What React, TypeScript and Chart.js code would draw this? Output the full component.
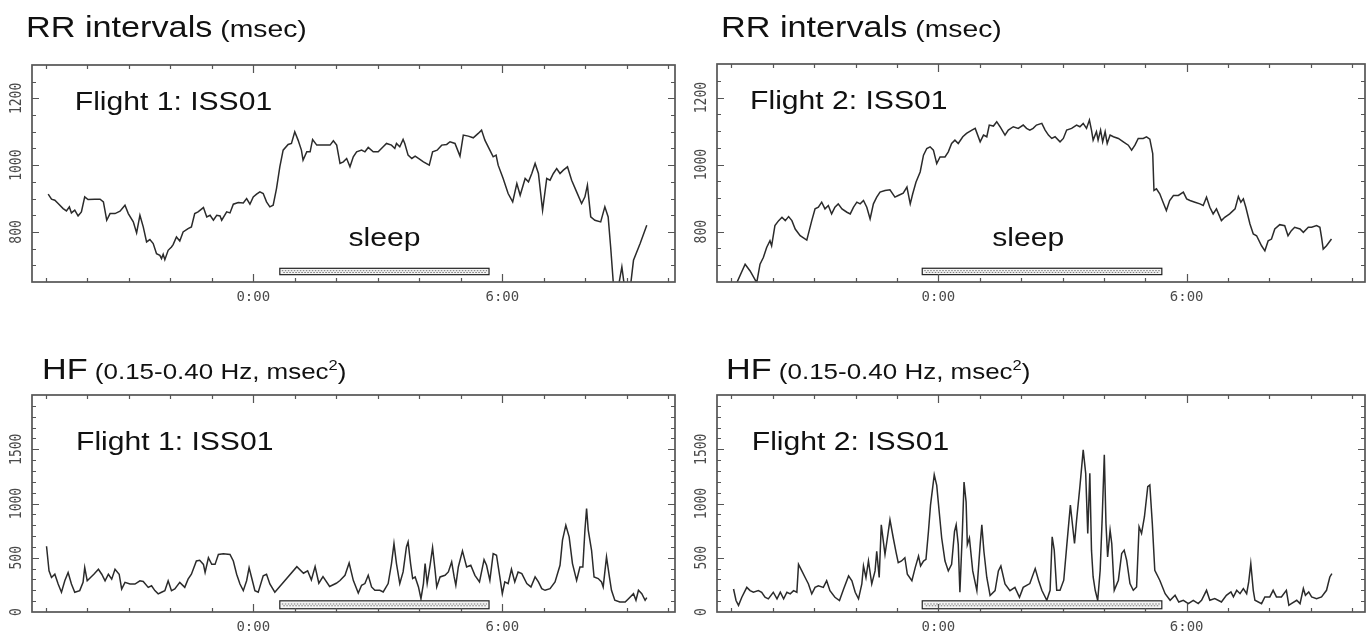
import React, { useEffect, useRef } from "react";
import { Chart, registerables } from "chart.js";

Chart.register(...registerables);

// ---------------- DATA ----------------
// RR intervals (msec), Flight 1 — x in hours relative to 0:00
const rr1Hours = [-4.94,-4.86,-4.78,-4.70,-4.58,-4.50,-4.43,-4.38,-4.30,-4.22,
-4.14,-4.06,-3.98,-3.82,-3.69,-3.61,-3.53,-3.45,-3.33,-3.21,
-3.09,-3.01,-2.89,-2.81,-2.73,-2.65,-2.57,-2.49,-2.41,-2.33,
-2.25,-2.21,-2.17,-2.13,-2.05,-1.97,-1.93,-1.85,-1.77,-1.69,
-1.57,-1.49,-1.41,-1.33,-1.20,-1.12,-1.04,-0.96,-0.88,-0.80,
-0.76,-0.64,-0.56,-0.48,-0.36,-0.24,-0.16,-0.08,0.00,0.08,
0.16,0.24,0.32,0.40,0.48,0.56,0.64,0.72,0.84,0.92,
1.00,1.08,1.16,1.20,1.29,1.37,1.43,1.53,1.69,1.85,
1.93,2.01,2.09,2.17,2.25,2.33,2.41,2.49,2.61,2.69,
2.77,2.89,3.01,3.13,3.21,3.33,3.41,3.45,3.53,3.61,
3.65,3.73,3.82,3.90,3.98,4.10,4.24,4.32,4.43,4.54,
4.66,4.74,4.86,4.98,5.06,5.18,5.30,5.42,5.50,5.58,
5.70,5.78,5.85,5.90,6.02,6.14,6.25,6.35,6.43,6.55,
6.63,6.71,6.79,6.87,6.97,7.07,7.15,7.23,7.31,7.39,
7.47,7.57,7.67,7.79,7.91,7.99,8.05,8.13,8.23,8.37,
8.47,8.55,8.61,8.69,8.76,8.88,8.96,9.08,9.16,9.32,
9.48];
const rr1Values = [913,898,895,885,870,863,875,857,865,848,
860,905,897,898,898,890,835,855,855,862,
880,855,830,797,850,815,770,777,765,735,
730,720,733,717,745,755,762,785,773,800,
810,815,855,860,873,845,850,835,850,848,
835,860,857,883,888,887,900,883,905,913,
920,915,890,875,880,930,995,1045,1062,1065,
1100,1075,1045,1015,1040,1040,1077,1060,1060,1060,
1073,1060,1005,1010,1020,995,1025,1040,1045,1040,
1053,1040,1040,1055,1065,1060,1050,1065,1055,1077,
1065,1030,1020,1027,1020,1010,1000,1040,1045,1060,
1062,1070,1065,1027,1090,1087,1082,1095,1105,1075,
1045,1025,1030,1000,960,915,890,945,910,960,
950,975,1005,975,865,960,955,975,990,975,
985,995,955,920,885,905,940,845,835,830,
875,845,755,620,610,695,620,630,715,765,
820];

// RR intervals (msec), Flight 2
const rr2Hours = [-4.90,-4.67,-4.55,-4.39,-4.31,-4.23,-4.15,-4.07,-4.03,-3.95,
-3.86,-3.78,-3.70,-3.62,-3.54,-3.46,-3.34,-3.18,-3.06,-2.98,
-2.90,-2.82,-2.74,-2.66,-2.58,-2.50,-2.42,-2.33,-2.21,-2.13,
-2.05,-1.97,-1.89,-1.81,-1.73,-1.65,-1.57,-1.49,-1.41,-1.29,
-1.17,-1.05,-0.97,-0.85,-0.76,-0.68,-0.62,-0.54,-0.44,-0.36,
-0.28,-0.20,-0.12,-0.04,0.04,0.16,0.24,0.32,0.40,0.48,
0.59,0.68,0.81,0.89,1.01,1.09,1.17,1.23,1.33,1.41,
1.49,1.61,1.69,1.81,1.93,2.05,2.13,2.21,2.29,2.37,
2.50,2.58,2.66,2.74,2.82,2.94,3.02,3.10,3.22,3.34,
3.42,3.50,3.58,3.65,3.70,3.74,3.82,3.86,3.92,3.97,
4.03,4.08,4.15,4.23,4.35,4.47,4.59,4.67,4.75,4.83,
4.95,5.03,5.11,5.18,5.21,5.27,5.35,5.43,5.51,5.59,
5.68,5.80,5.92,6.00,6.08,6.20,6.32,6.40,6.48,6.56,
6.64,6.72,6.84,6.92,7.04,7.17,7.25,7.31,7.37,7.43,
7.53,7.61,7.69,7.81,7.89,7.97,8.05,8.13,8.25,8.37,
8.45,8.53,8.61,8.74,8.82,8.94,9.02,9.14,9.22,9.26,
9.30,9.38,9.50];
const rr2Values = [640,703,683,648,703,723,753,773,758,818,
833,843,833,845,833,808,788,775,833,868,
873,888,868,878,853,873,883,868,858,853,
873,888,883,893,873,838,883,903,918,923,
925,903,908,915,933,883,913,948,978,1028,
1048,1053,1043,1003,1023,1023,1038,1063,1073,1063,
1083,1093,1103,1108,1068,1088,1083,1118,1115,1128,
1113,1088,1103,1113,1108,1118,1108,1103,1108,1118,
1123,1103,1088,1078,1083,1068,1078,1103,1108,1118,
1113,1123,1108,1133,1103,1073,1098,1073,1103,1068,
1098,1063,1088,1083,1078,1068,1058,1043,1058,1078,
1078,1083,1076,1033,923,928,913,888,863,893,
908,908,918,898,893,888,883,878,903,873,
853,868,833,843,853,868,905,888,898,873,
823,793,788,758,743,773,778,808,821,818,
788,803,813,808,798,813,813,818,813,783,
748,758,778];

// HF power (msec^2), Flight 1
const hf1Hours = [-4.98,-4.92,-4.86,-4.78,-4.70,-4.62,-4.54,-4.46,-4.38,-4.30,
-4.18,-4.10,-4.06,-4.00,-3.92,-3.84,-3.73,-3.65,-3.57,-3.49,
-3.41,-3.33,-3.23,-3.17,-3.09,-2.97,-2.85,-2.73,-2.65,-2.53,
-2.45,-2.37,-2.29,-2.21,-2.13,-2.05,-1.97,-1.89,-1.77,-1.65,
-1.57,-1.49,-1.37,-1.29,-1.20,-1.16,-1.08,-1.00,-0.92,-0.84,
-0.72,-0.56,-0.48,-0.40,-0.32,-0.24,-0.16,-0.10,-0.04,0.04,
0.12,0.24,0.32,0.40,0.52,1.05,1.21,1.31,1.40,1.49,
1.58,1.68,1.84,2.00,2.09,2.21,2.31,2.41,2.53,2.61,
2.69,2.77,2.85,2.93,3.05,3.13,3.25,3.33,3.39,3.45,
3.53,3.61,3.69,3.73,3.79,3.84,3.90,3.98,4.04,4.10,
4.14,4.19,4.26,4.32,4.38,4.42,4.50,4.62,4.70,4.78,
4.84,4.88,4.94,5.04,5.14,5.24,5.34,5.45,5.56,5.62,
5.70,5.78,5.86,5.94,6.00,6.06,6.14,6.22,6.30,6.38,
6.47,6.59,6.69,6.79,6.87,6.95,7.03,7.15,7.27,7.39,
7.45,7.53,7.61,7.69,7.79,7.87,7.94,7.99,8.03,8.07,
8.15,8.21,8.31,8.39,8.43,8.51,8.58,8.63,8.71,8.83,
8.96,9.04,9.16,9.22,9.28,9.36,9.44,9.48];
const hf1Values = [606,379,318,348,258,182,288,364,258,182,
197,273,409,288,318,348,394,348,288,348,
303,394,348,212,273,258,258,288,282,227,
242,197,167,182,197,288,197,212,273,227,
303,348,470,476,439,364,500,439,439,530,
536,530,470,348,258,197,288,409,318,197,
182,333,348,258,182,418,357,380,296,418,
265,326,235,265,290,338,452,292,175,246,
262,338,231,200,200,185,262,446,631,446,
262,369,600,646,446,308,323,231,123,262,
446,262,431,594,385,231,323,338,369,462,
323,246,415,563,415,431,338,277,483,431,
292,538,523,323,169,277,262,394,277,369,
354,262,231,323,277,215,200,215,277,431,
662,800,692,446,292,415,415,754,954,754,
569,323,308,277,231,508,323,200,108,92,
92,123,169,108,200,169,108,132];

// HF power (msec^2), Flight 2
const hf2Hours = [-4.95,-4.89,-4.83,-4.75,-4.63,-4.55,-4.47,-4.35,-4.27,-4.19,
-4.11,-3.99,-3.90,-3.82,-3.74,-3.66,-3.58,-3.50,-3.42,-3.38,
-3.30,-3.22,-3.14,-3.06,-2.98,-2.90,-2.78,-2.70,-2.62,-2.50,
-2.39,-2.29,-2.17,-2.09,-2.01,-1.93,-1.85,-1.81,-1.75,-1.69,
-1.61,-1.53,-1.49,-1.43,-1.38,-1.33,-1.29,-1.21,-1.17,-1.09,
-1.02,-0.97,-0.89,-0.81,-0.75,-0.64,-0.56,-0.48,-0.43,-0.36,
-0.30,-0.24,-0.19,-0.10,-0.04,0.02,0.08,0.16,0.24,0.32,
0.39,0.43,0.48,0.52,0.58,0.62,0.67,0.70,0.75,0.83,
0.93,1.01,1.05,1.10,1.17,1.25,1.37,1.45,1.51,1.61,
1.73,1.85,1.96,2.05,2.21,2.34,2.42,2.50,2.62,2.70,
2.75,2.80,2.86,2.94,3.03,3.10,3.19,3.22,3.29,3.34,
3.42,3.50,3.56,3.61,3.66,3.70,3.74,3.79,3.85,3.91,
3.96,4.01,4.05,4.09,4.15,4.19,4.25,4.35,4.43,4.49,
4.55,4.63,4.71,4.79,4.85,4.91,4.98,5.06,5.11,5.17,
5.23,5.35,5.48,5.60,5.72,5.81,5.92,6.04,6.16,6.28,
6.36,6.48,6.56,6.68,6.84,6.96,7.07,7.13,7.21,7.29,
7.37,7.45,7.50,7.55,7.61,7.65,7.81,7.89,8.01,8.09,
8.17,8.29,8.41,8.47,8.53,8.66,8.74,8.82,8.87,8.95,
9.02,9.14,9.26,9.38,9.46,9.51];
const hf2Values = [212,106,61,136,227,197,182,197,182,136,
121,182,121,182,121,182,167,197,182,439,
379,318,258,167,227,242,227,288,197,136,
106,212,333,288,182,121,258,424,318,470,
258,379,560,318,803,651,530,742,850,682,
545,455,470,500,348,288,409,515,424,470,
485,742,985,1264,1167,924,682,470,379,439,
742,803,621,182,742,1197,1015,621,682,379,
197,621,803,560,318,152,197,379,424,258,
197,227,136,227,262,400,293,200,108,200,
693,570,200,200,293,600,985,878,631,847,
1155,1494,1278,724,1278,570,323,200,108,385,
878,1448,816,508,754,631,200,293,539,570,
477,262,200,231,785,724,878,1155,1170,816,
385,293,169,108,154,92,108,77,108,77,
108,200,108,123,92,154,185,139,200,169,
216,169,277,447,200,108,77,139,139,200,
139,139,200,62,77,108,77,216,154,185,
139,123,139,200,323,354];

// Axis ticks / labels
const rrTickValues = [800, 1000, 1200];
const rrTickLabels = ["800", "1000", "1200"];
const hfTickValues = [0, 500, 1000, 1500];
const hfTickLabels = ["0", "500", "1000", "1500"];
const timeTickHours = [0, 6];
const timeTickLabels = ["0:00", "6:00"];
const flightLabels = ["Flight 1: ISS01", "Flight 2: ISS01"];
const sleepLabel = "sleep";
// sleep windows (hours)
const sleepFlight1 = [0.64, 5.68];
const sleepFlight2 = [-0.39, 5.40];

// ---------------- STYLE / LAYOUT ----------------
const TEXT_STRETCH = 1.18;
const LINE_COLOR = "#2b2b2b";
const FRAME_COLOR = "#555555";
const TICK_FONT = '14px "DejaVu Sans Mono", monospace';
const LABEL_FONT = '25.5px "Liberation Sans", Arial, sans-serif';

type Panel = {
  key: string;
  hours: number[];
  values: number[];
  xMin: number; xMax: number;
  yMin: number; yMax: number;
  yMinorStep: number;
  yTicks: number[]; yLabels: string[];
  flight: string; flightAt: [number, number];
  sleep: number[]; sleepBand: [number, number];
  sleepText: boolean; sleepTextAt: [number, number];
  box: { left: number; top: number; right: number; bottom: number };
  canvas: { left: number; top: number; width: number; height: number };
};

const panels: Panel[] = [
  {
    key: "rr1", hours: rr1Hours, values: rr1Values,
    xMin: -5.33, xMax: 10.16, yMin: 650, yMax: 1300, yMinorStep: 50,
    yTicks: rrTickValues, yLabels: rrTickLabels,
    flight: flightLabels[0], flightAt: [-4.3, 1165],
    sleep: sleepFlight1, sleepBand: [672, 691],
    sleepText: true, sleepTextAt: [3.16, 757],
    box: { left: 32, top: 65, right: 675, bottom: 282 },
    canvas: { left: 0, top: 45, width: 684, height: 275 },
  },
  {
    key: "rr2", hours: rr2Hours, values: rr2Values,
    xMin: -5.35, xMax: 10.31, yMin: 650, yMax: 1300, yMinorStep: 50,
    yTicks: rrTickValues, yLabels: rrTickLabels,
    flight: flightLabels[1], flightAt: [-4.55, 1165],
    sleep: sleepFlight2, sleepBand: [672, 691],
    sleepText: true, sleepTextAt: [2.17, 757],
    box: { left: 717, top: 64, right: 1365, bottom: 282 },
    canvas: { left: 684, top: 45, width: 685, height: 275 },
  },
  {
    key: "hf1", hours: hf1Hours, values: hf1Values,
    xMin: -5.33, xMax: 10.16, yMin: 0, yMax: 2000, yMinorStep: 100,
    yTicks: hfTickValues, yLabels: hfTickLabels,
    flight: flightLabels[0], flightAt: [-4.27, 1493],
    sleep: sleepFlight1, sleepBand: [30, 103],
    sleepText: false, sleepTextAt: [0, 0],
    box: { left: 32, top: 395, right: 675, bottom: 612 },
    canvas: { left: 0, top: 385, width: 684, height: 253 },
  },
  {
    key: "hf2", hours: hf2Hours, values: hf2Values,
    xMin: -5.35, xMax: 10.31, yMin: 0, yMax: 2000, yMinorStep: 100,
    yTicks: hfTickValues, yLabels: hfTickLabels,
    flight: flightLabels[1], flightAt: [-4.51, 1493],
    sleep: sleepFlight2, sleepBand: [30, 103],
    sleepText: false, sleepTextAt: [0, 0],
    box: { left: 717, top: 395, right: 1365, bottom: 612 },
    canvas: { left: 684, top: 385, width: 685, height: 253 },
  },
];

function stretchedText(ctx: CanvasRenderingContext2D, text: string, x: number, y: number, align: CanvasTextAlign) {
  ctx.save();
  ctx.translate(x, y);
  ctx.scale(TEXT_STRETCH, 1);
  ctx.textAlign = align;
  ctx.textBaseline = "alphabetic";
  ctx.fillText(text, 0, 0);
  ctx.restore();
}

const framePlugin = {
  id: "panelFrame",
  afterDatasetsDraw(chart: any, _args: any, opts: any) {
    const p: Panel = opts.panel;
    const ctx: CanvasRenderingContext2D = chart.ctx;
    const a = chart.chartArea;
    const x = chart.scales.x;
    const y = chart.scales.y;
    ctx.save();

    // sleep bar
    const bx1 = x.getPixelForValue(p.sleep[0]);
    const bx2 = x.getPixelForValue(p.sleep[1]);
    const by1 = y.getPixelForValue(p.sleepBand[1]);
    const by2 = y.getPixelForValue(p.sleepBand[0]);
    ctx.fillStyle = "#f4f4f4";
    ctx.fillRect(bx1, by1, bx2 - bx1, by2 - by1);
    ctx.strokeStyle = "#777";
    ctx.lineWidth = 1;
    ctx.setLineDash([1.5, 1.5]);
    const my = (by1 + by2) / 2;
    ctx.beginPath();
    ctx.moveTo(bx1 + 2, my - 0.8);
    ctx.lineTo(bx2 - 2, my - 0.8);
    ctx.stroke();
    ctx.lineDashOffset = 1.5;
    ctx.beginPath();
    ctx.moveTo(bx1 + 2, my + 1);
    ctx.lineTo(bx2 - 2, my + 1);
    ctx.stroke();
    ctx.setLineDash([]);
    ctx.strokeStyle = "#222";
    ctx.lineWidth = 1.2;
    ctx.strokeRect(bx1, by1, bx2 - bx1, by2 - by1);

    // frame
    ctx.strokeStyle = FRAME_COLOR;
    ctx.lineWidth = 1.7;
    ctx.strokeRect(a.left, a.top, a.right - a.left, a.bottom - a.top);

    // x ticks (inward, top and bottom)
    ctx.lineWidth = 1.2;
    ctx.beginPath();
    for (let h = Math.ceil(x.min); h <= Math.floor(x.max); h++) {
      const px = Math.round(x.getPixelForValue(h)) + 0.5;
      const len = timeTickHours.includes(h) ? 8 : 4;
      ctx.moveTo(px, a.bottom);
      ctx.lineTo(px, a.bottom - len);
      ctx.moveTo(px, a.top);
      ctx.lineTo(px, a.top + len);
    }
    // y ticks (inward, left and right)
    const start = Math.ceil(y.min / p.yMinorStep) * p.yMinorStep;
    for (let v = start; v <= y.max; v += p.yMinorStep) {
      if (v === y.min || v === y.max) continue;
      const py = Math.round(y.getPixelForValue(v)) + 0.5;
      const len = p.yTicks.includes(v) ? 7 : 4;
      ctx.moveTo(a.left, py);
      ctx.lineTo(a.left + len, py);
      ctx.moveTo(a.right, py);
      ctx.lineTo(a.right - len, py);
    }
    ctx.stroke();

    // y labels (rotated)
    ctx.fillStyle = "#4a4a4a";
    ctx.font = TICK_FONT;
    p.yTicks.forEach((v, i) => {
      ctx.save();
      ctx.translate(a.left - 15, y.getPixelForValue(v));
      ctx.rotate(-Math.PI / 2);
      ctx.scale(0.93, TEXT_STRETCH);
      ctx.textAlign = "center";
      ctx.textBaseline = "middle";
      ctx.fillText(p.yLabels[i], 0, 0);
      ctx.restore();
    });
    // x labels
    timeTickHours.forEach((h, i) => {
      ctx.textAlign = "center";
      ctx.textBaseline = "middle";
      ctx.fillText(timeTickLabels[i], x.getPixelForValue(h), a.bottom + 15);
    });

    // annotations
    ctx.fillStyle = "#111";
    ctx.font = LABEL_FONT;
    stretchedText(ctx, p.flight, x.getPixelForValue(p.flightAt[0]), y.getPixelForValue(p.flightAt[1]), "left");
    if (p.sleepText) {
      stretchedText(ctx, sleepLabel, x.getPixelForValue(p.sleepTextAt[0]), y.getPixelForValue(p.sleepTextAt[1]), "center");
    }
    ctx.restore();
  },
};

function PanelChart({ p }: { p: Panel }) {
  const ref = useRef<HTMLCanvasElement | null>(null);
  useEffect(() => {
    if (!ref.current) return;
    const c = p.canvas;
    const chart = new Chart(ref.current, {
      type: "line",
      data: {
        datasets: [
          {
            data: p.hours.map((h, i) => ({ x: h, y: p.values[i] })),
            borderColor: LINE_COLOR,
            borderWidth: 1.5,
            pointRadius: 0,
            tension: 0,
            fill: false,
          },
        ],
      },
      options: {
        animation: false,
        responsive: false,
        maintainAspectRatio: false,
        events: [],
        layout: {
          padding: {
            left: p.box.left - c.left,
            top: p.box.top - c.top,
            right: c.left + c.width - p.box.right,
            bottom: c.top + c.height - p.box.bottom,
          },
        },
        plugins: {
          legend: { display: false },
          tooltip: { enabled: false },
          title: { display: false },
          panelFrame: { panel: p },
        } as any,
        scales: {
          x: { type: "linear", min: p.xMin, max: p.xMax, display: false },
          y: { type: "linear", min: p.yMin, max: p.yMax, display: false },
        },
      },
      plugins: [framePlugin as any],
    });
    return () => chart.destroy();
  }, [p]);
  const c = p.canvas;
  return (
    <canvas
      ref={ref}
      width={c.width}
      height={c.height}
      style={{ position: "absolute", left: c.left, top: c.top, width: c.width, height: c.height }}
    />
  );
}

const titleBase: React.CSSProperties = {
  position: "absolute",
  whiteSpace: "nowrap",
  fontFamily: '"Liberation Sans", Arial, sans-serif',
  color: "#111",
  lineHeight: "29px",
  transform: `scaleX(${TEXT_STRETCH})`,
  transformOrigin: "0 0",
};

function RRTitle({ left, top }: { left: number; top: number }) {
  return (
    <div style={{ ...titleBase, left, top }}>
      <span style={{ fontSize: 29 }}>RR intervals</span>
      <span style={{ fontSize: 24 }}> (msec)</span>
    </div>
  );
}

function HFTitle({ left, top }: { left: number; top: number }) {
  return (
    <div style={{ ...titleBase, left, top }}>
      <span style={{ fontSize: 29 }}>HF</span>
      <span style={{ fontSize: 22 }}>
        {" (0.15-0.40 Hz, msec"}
        <span style={{ fontSize: 14, position: "relative", top: -9 }}>2</span>
        {")"}
      </span>
    </div>
  );
}

export default function App() {
  return (
    <div
      style={{
        position: "absolute",
        left: 0,
        top: 0,
        width: 1369,
        height: 638,
        background: "#ffffff",
        overflow: "hidden",
      }}
    >
      {panels.map((p) => (
        <PanelChart key={p.key} p={p} />
      ))}
      <RRTitle left={26} top={13} />
      <RRTitle left={721} top={13} />
      <HFTitle left={42} top={355} />
      <HFTitle left={726} top={355} />
    </div>
  );
}
